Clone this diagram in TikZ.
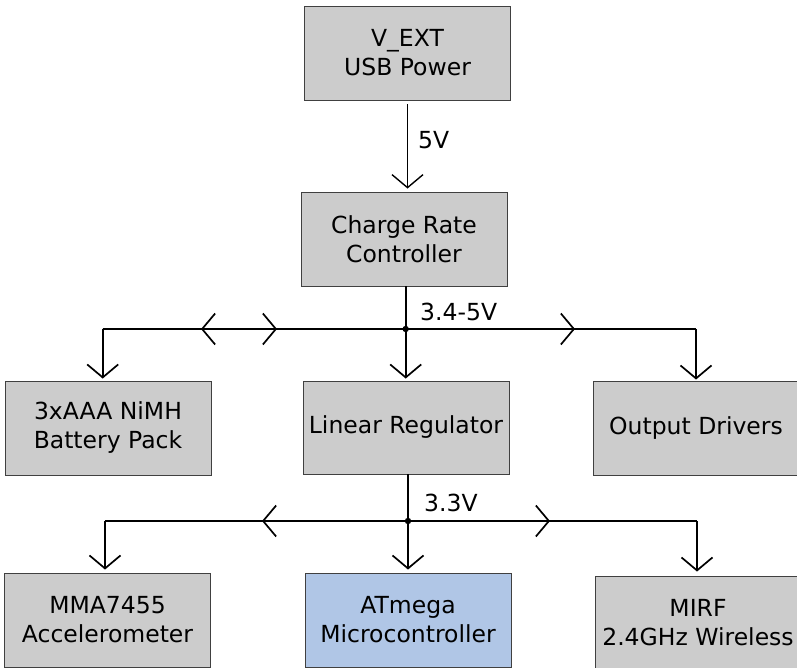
\documentclass[tikz,border=0pt]{standalone}
\usepackage{fontspec}
\setmainfont{DejaVu Sans}
\usetikzlibrary{arrows.meta}
\definecolor{boxgray}{HTML}{CCCCCC}
\definecolor{boxblue}{HTML}{B0C6E6}
\begin{document}
\begin{tikzpicture}[x=1pt,y=1pt,
  box/.style={draw=black!75, line width=0.9pt, fill=boxgray, minimum width=206pt,
    minimum height=94pt, inner sep=0pt, align=center,
    font=\fontsize{23.5}{29}\selectfont},
  wire/.style={line width=1.7pt},
  arr/.style={wire, -{Straight Barb[length=13pt,width=31pt]}},
  lbl/.style={font=\fontsize{23.5}{29}\selectfont, inner sep=0pt, anchor=west}]
\useasboundingbox (0,0) rectangle (797,-668);
% boxes
\node[box] (vext) at (407.5,-53) {V\_EXT\\USB Power};
\node[box] (crc) at (404,-239) {Charge Rate\\Controller};
\node[box] (bat) at (108,-428) {3xAAA NiMH\\Battery Pack};
\node[box, minimum height=93pt] (lin) at (406,-427.5) {Linear Regulator};
\node[box] (out) at (696,-428) {Output Drivers};
\node[box] (mma) at (107.5,-620) {MMA7455\\Accelerometer};
\node[box, fill=boxblue] (atm) at (408,-620) {ATmega\\Microcontroller};
\node[box] (mirf) at (698,-623) {MIRF\\2.4GHz Wireless};
% junctions and bus points
\coordinate (j1) at (405.7,-329);
\coordinate (cL1) at (102.7,-329);
\coordinate (cR1) at (696,-329);
\coordinate (a1) at (201,-329);
\coordinate (a2) at (277,-329);
\coordinate (a3) at (575,-329);
\coordinate (j2) at (408,-521);
\coordinate (cL2) at (105,-521);
\coordinate (cR2) at (697,-521);
\coordinate (b1) at (262,-521);
\coordinate (b2) at (550,-521);
% 5V
\draw[arr, line width=1.4pt, shorten <=4pt, shorten >=3pt] (vext.south) -- (vext.south |- crc.north);
\node[lbl] (l5) at (418,-140) {5V};
% top bus
\draw[wire] (crc.south -| j1) -- (j1);
\draw[wire] (cL1) -- (cR1);
\draw[arr] (j1) -- (a1);
\draw[arr] (cL1) -- (a2);
\draw[arr] (j1) -- (a3);
\draw[arr, shorten >=2pt] (cL1) -- (bat.north -| cL1);
\draw[arr, shorten >=2pt] (j1) -- (lin.north -| j1);
\draw[arr, shorten >=1pt] (cR1) -- (out.north -| cR1);
\fill (j1) circle (3.2pt);
\node[lbl] (l34) at (420,-312) {3.4-5V};
% bottom bus
\draw[wire] (lin.south -| j2) -- (j2);
\draw[wire] (cL2) -- (cR2);
\draw[arr] (j2) -- (b1);
\draw[arr] (j2) -- (b2);
\draw[arr, shorten >=3pt] (cL2) -- (mma.north -| cL2);
\draw[arr, shorten >=3pt] (j2) -- (atm.north -| j2);
\draw[arr, shorten >=4pt] (cR2) -- (mirf.north -| cR2);
\fill (j2) circle (3.2pt);
\node[lbl] (l33) at (424,-503) {3.3V};
\end{tikzpicture}
\end{document}
